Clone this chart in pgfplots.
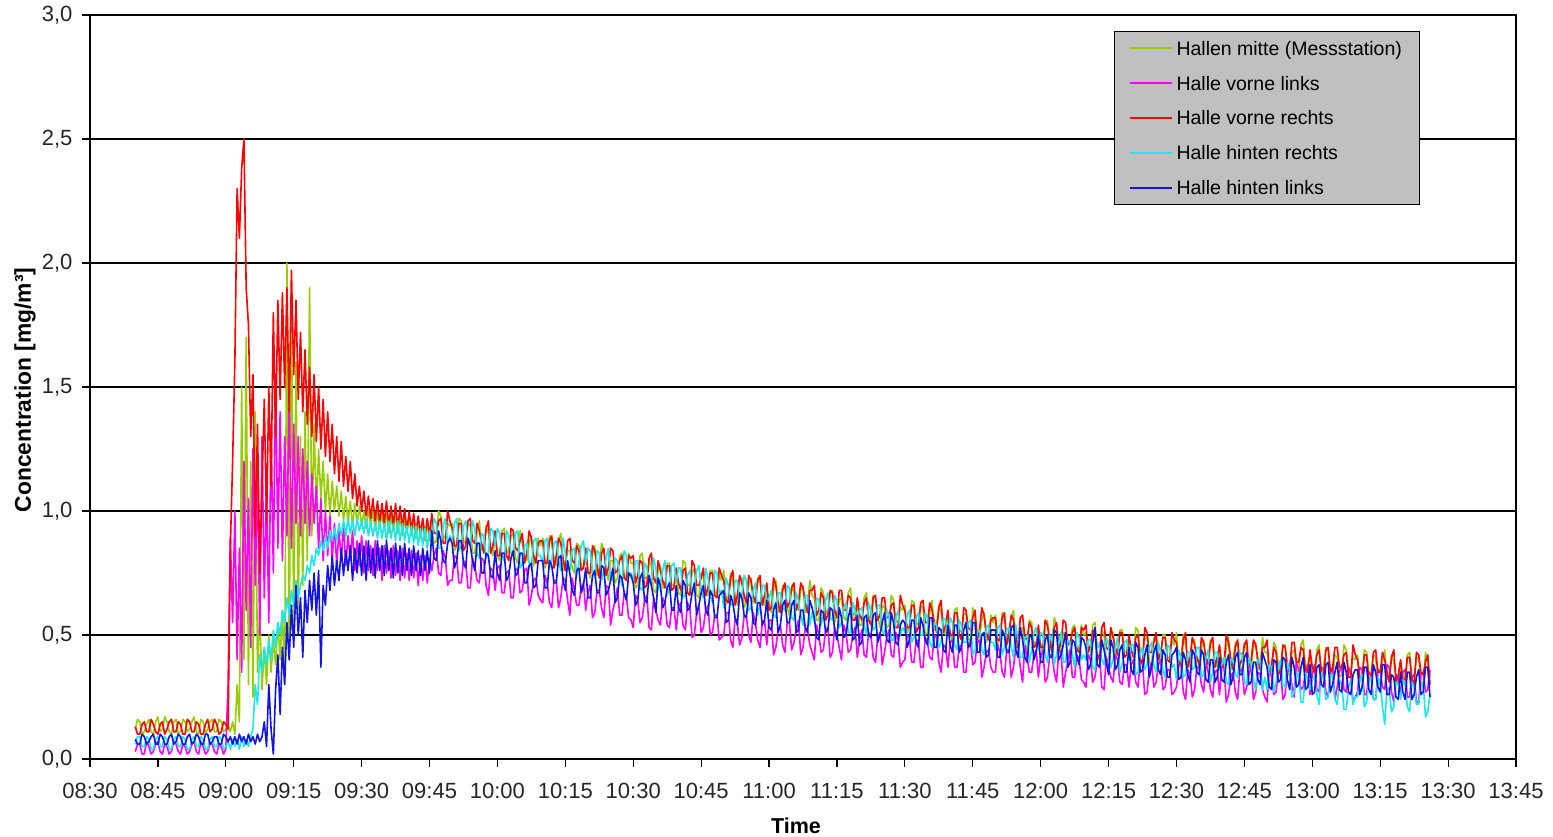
\documentclass[border=0pt]{standalone}
\usepackage{fontspec}
\setmainfont{Liberation Sans}
\usepackage{pgfplots}
\pgfplotsset{compat=1.18}
\usepackage{pgfplotstable}

\definecolor{cMitte}{RGB}{153,204,0}
\definecolor{cVL}{RGB}{255,0,255}
\definecolor{cVR}{RGB}{255,0,0}
\definecolor{cHR}{RGB}{30,230,235}
\definecolor{cHL}{RGB}{20,20,225}
\definecolor{legfill}{RGB}{192,192,192}

% t = minutes after 08:30; g = Hallen mitte, m = vorne links, r = vorne rechts, c = hinten rechts, b = hinten links
\pgfplotstableread{
t g m r c b
10 0.12 0.03 0.13 0.06 0.08
10.5 0.16 0.06 0.10 0.09 0.06
11 0.15 0.06 0.10 0.09 0.06
11.5 0.10 0.02 0.14 0.05 0.10
12 0.11 0.02 0.15 0.05 0.09
12.5 0.14 0.07 0.11 0.09 0.06
13 0.16 0.05 0.11 0.08 0.07
13.5 0.11 0.02 0.16 0.04 0.09
14 0.10 0.03 0.14 0.04 0.10
14.5 0.15 0.06 0.11 0.08 0.06
15 0.17 0.07 0.10 0.09 0.06
15.5 0.11 0.03 0.14 0.05 0.10
16 0.12 0.02 0.15 0.05 0.09
16.5 0.17 0.06 0.10 0.09 0.06
17 0.15 0.05 0.12 0.08 0.06
17.5 0.11 0.02 0.15 0.04 0.09
18 0.10 0.03 0.16 0.04 0.10
18.5 0.15 0.07 0.11 0.08 0.06
19 0.16 0.06 0.11 0.09 0.07
19.5 0.10 0.03 0.15 0.05 0.10
20 0.11 0.02 0.14 0.05 0.09
20.5 0.16 0.06 0.10 0.09 0.06
21 0.15 0.05 0.10 0.08 0.06
21.5 0.11 0.02 0.16 0.04 0.09
22 0.12 0.03 0.15 0.04 0.10
22.5 0.15 0.06 0.11 0.08 0.06
23 0.17 0.07 0.11 0.09 0.07
23.5 0.11 0.03 0.15 0.05 0.10
24 0.10 0.02 0.14 0.05 0.09
24.5 0.16 0.07 0.10 0.09 0.06
25 0.15 0.05 0.10 0.08 0.06
25.5 0.10 0.02 0.14 0.04 0.10
26 0.12 0.03 0.16 0.04 0.10
26.5 0.15 0.06 0.11 0.08 0.06
27 0.16 0.06 0.12 0.09 0.07
27.5 0.11 0.03 0.16 0.05 0.09
28 0.11 0.02 0.14 0.05 0.09
28.5 0.16 0.06 0.10 0.09 0.06
29 0.15 0.05 0.11 0.08 0.06
29.5 0.11 0.02 0.15 0.04 0.10
30 0.12 0.04 0.14 0.05 0.09
30.5 0.14 0.30 0.12 0.07 0.07
31.0 0.11 0.90 0.85 0.04 0.09
31.5 0.15 0.55 1.20 0.08 0.06
32.0 0.10 1.00 1.60 0.05 0.09
32.5 0.30 0.40 2.30 0.08 0.06
33.0 0.15 0.85 2.10 0.04 0.10
33.5 1.50 0.35 2.38 0.09 0.07
34.0 0.40 1.20 2.50 0.05 0.09
34.5 1.70 0.60 1.90 0.08 0.06
35.0 0.30 1.05 1.75 0.05 0.10
35.5 1.20 0.45 1.30 0.09 0.07
36.0 0.25 1.25 1.55 0.12 0.09
36.5 1.40 0.70 0.90 0.30 0.06
37.0 0.35 1.15 1.35 0.22 0.10
37.5 0.60 0.50 0.75 0.42 0.07
38.0 0.28 1.30 1.10 0.35 0.09
38.5 0.45 0.65 1.45 0.45 0.15
39.0 0.30 1.10 0.95 0.38 0.05
39.5 0.50 0.55 1.50 0.48 0.30
40.0 0.35 1.35 1.10 0.40 0.12
40.5 0.48 0.75 1.80 0.52 0.02
41.0 0.38 1.55 1.30 0.45 0.28
41.5 0.55 0.85 1.85 0.55 0.42
42.0 0.40 1.40 1.45 0.50 0.18
42.5 0.60 0.80 1.88 0.60 0.45
43.0 0.30 1.30 1.50 0.55 0.30
43.5 2.00 0.90 1.90 0.65 0.55
44.0 0.40 1.45 1.40 0.58 0.40
44.5 1.85 0.85 1.97 0.68 0.62
45.0 0.50 1.35 1.55 0.62 0.45
45.5 1.60 0.95 1.85 0.72 0.70
46.0 0.60 1.30 1.45 0.65 0.50
46.5 1.30 0.90 1.72 0.70 0.65
47.0 0.70 1.25 1.40 0.74 0.41
47.5 1.40 0.95 1.65 0.72 0.68
48.0 0.80 1.20 1.35 0.78 0.55
48.5 1.90 0.90 1.58 0.75 0.72
49.0 0.90 1.15 1.30 0.82 0.60
49.5 1.35 0.95 1.55 0.78 0.75
50.0 1.00 1.10 1.28 0.85 0.58
50.5 1.25 0.85 1.50 0.82 0.76
51.0 1.05 1.05 1.25 0.88 0.37
51.5 1.20 0.80 1.45 0.84 0.70
52.0 1.00 1.00 1.22 0.90 0.62
52.5 1.15 0.82 1.40 0.85 0.78
53.0 0.98 0.98 1.20 0.92 0.68
53.5 1.12 0.80 1.35 0.88 0.82
54.0 1.00 0.95 1.15 0.93 0.70
54.5 1.10 0.78 1.30 0.88 0.80
55.0 0.98 0.92 1.12 0.95 0.72
55.5 1.08 0.80 1.28 0.90 0.85
56.0 0.96 0.95 1.10 0.96 0.74
56.5 1.06 0.78 1.22 0.90 0.84
57.0 0.95 0.90 1.08 0.97 0.76
57.5 1.04 0.80 1.20 0.91 0.86
58.0 0.94 0.92 1.05 0.96 0.72
58.5 1.03 0.76 1.15 0.90 0.85
59.0 0.95 0.88 1.02 0.97 0.75
59.5 1.02 0.78 1.10 0.92 0.87
60.0 0.94 0.90 1.00 0.96 0.74
60.5 1.00 0.75 1.08 0.91 0.86
61.0 0.93 0.88 0.98 0.97 0.72
61.5 1.01 0.76 1.06 0.90 0.88
62.0 0.94 0.86 0.97 0.96 0.75
62.5 1.00 0.74 1.05 0.90 0.85
63.0 0.92 0.88 0.96 0.95 0.73
63.5 1.00 0.76 1.04 0.89 0.88
64.0 0.93 0.85 0.95 0.96 0.76
64.5 0.99 0.72 1.03 0.89 0.86
65.0 0.92 0.86 0.95 0.95 0.74
65.5 1.00 0.75 1.04 0.88 0.88
66.0 0.91 0.84 0.94 0.96 0.76
66.5 0.98 0.73 1.02 0.89 0.85
67.0 0.92 0.86 0.94 0.95 0.73
67.5 0.99 0.74 1.03 0.88 0.87
68.0 0.91 0.84 0.93 0.96 0.75
68.5 0.98 0.72 1.02 0.88 0.86
69.0 0.90 0.85 0.93 0.95 0.74
69.5 0.97 0.73 1.01 0.88 0.87
70.0 0.91 0.83 0.92 0.94 0.76
70.5 0.97 0.72 1.00 0.87 0.85
71.0 0.90 0.84 0.92 0.94 0.74
71.5 0.96 0.73 0.99 0.87 0.86
72.0 0.89 0.83 0.91 0.94 0.76
72.5 0.96 0.70 0.98 0.86 0.84
73.0 0.89 0.82 0.91 0.93 0.74
73.5 0.95 0.72 0.97 0.86 0.85
74.0 0.88 0.82 0.90 0.93 0.76
74.5 0.95 0.71 0.97 0.85 0.84
75.0 0.88 0.81 0.90 0.92 0.75
75.5 0.95 0.76 0.99 0.87 0.92
76 0.87 0.82 0.91 0.97 0.81
76.5 0.88 0.85 0.91 0.95 0.80
77 1.00 0.75 0.96 0.85 0.92
77.5 0.98 0.74 0.97 0.85 0.88
78 0.90 0.84 0.87 0.94 0.80
78.5 0.89 0.81 0.87 0.97 0.79
79 0.95 0.70 1.00 0.87 0.87
79.5 0.94 0.72 0.96 0.90 0.89
80 0.95 0.72 0.93 0.88 0.87
80.5 0.84 0.82 0.86 0.95 0.77
81 0.86 0.81 0.86 0.97 0.80
81.5 0.97 0.71 0.95 0.84 0.88
82 0.96 0.71 0.95 0.86 0.88
82.5 0.88 0.80 0.84 0.94 0.79
83 0.87 0.79 0.86 0.96 0.77
83.5 0.95 0.69 0.96 0.87 0.89
84 0.94 0.69 0.97 0.87 0.86
84.5 0.83 0.81 0.88 0.96 0.80
85 0.83 0.78 0.87 0.93 0.76
85.5 0.91 0.72 0.95 0.83 0.87
86 0.96 0.71 0.92 0.81 0.87
86.5 0.84 0.81 0.87 0.91 0.75
87 0.86 0.80 0.83 0.90 0.75
87.5 0.94 0.70 0.93 0.81 0.83
88 0.91 0.66 0.96 0.83 0.82
88.5 0.85 0.77 0.83 0.93 0.74
89 0.82 0.76 0.86 0.92 0.73
89.5 0.90 0.68 0.92 0.86 0.84
90 0.82 0.77 0.82 0.93 0.75
90.5 0.80 0.78 0.82 0.91 0.72
91 0.92 0.67 0.91 0.82 0.83
91.5 0.93 0.67 0.91 0.80 0.83
92 0.83 0.75 0.82 0.92 0.72
92.5 0.84 0.76 0.80 0.90 0.74
93 0.90 0.65 0.93 0.83 0.81
93.5 0.91 0.65 0.92 0.83 0.84
94 0.81 0.76 0.85 0.91 0.74
94.5 0.79 0.77 0.84 0.92 0.75
95 0.92 0.67 0.88 0.77 0.83
95.5 0.87 0.68 0.91 0.79 0.83
96 0.82 0.76 0.79 0.86 0.71
96.5 0.80 0.77 0.83 0.87 0.71
97 0.87 0.62 0.92 0.79 0.78
97.5 0.90 0.66 0.89 0.77 0.79
98 0.78 0.72 0.82 0.88 0.69
98.5 0.81 0.73 0.79 0.89 0.70
99 0.89 0.66 0.87 0.82 0.80
99.5 0.86 0.64 0.88 0.82 0.80
100 0.89 0.63 0.88 0.79 0.80
100.5 0.77 0.74 0.79 0.88 0.69
101 0.80 0.71 0.79 0.89 0.69
101.5 0.90 0.63 0.88 0.77 0.80
102 0.87 0.61 0.90 0.80 0.78
102.5 0.81 0.72 0.77 0.87 0.71
103 0.78 0.72 0.82 0.88 0.71
103.5 0.88 0.61 0.89 0.80 0.81
104 0.91 0.65 0.87 0.76 0.82
104.5 0.76 0.73 0.81 0.89 0.72
105 0.79 0.72 0.76 0.83 0.68
105.5 0.84 0.64 0.88 0.76 0.80
106 0.84 0.58 0.89 0.76 0.75
106.5 0.77 0.73 0.80 0.84 0.68
107 0.75 0.68 0.79 0.85 0.66
107.5 0.87 0.62 0.86 0.74 0.76
108 0.86 0.62 0.84 0.79 0.77
108.5 0.78 0.69 0.76 0.86 0.67
109 0.77 0.71 0.77 0.88 0.70
109.5 0.83 0.60 0.85 0.79 0.77
110 0.76 0.67 0.75 0.85 0.65
110.5 0.73 0.70 0.75 0.84 0.65
111 0.83 0.57 0.86 0.76 0.74
111.5 0.86 0.59 0.84 0.73 0.76
112 0.74 0.68 0.78 0.84 0.67
112.5 0.77 0.68 0.73 0.83 0.67
113 0.87 0.61 0.83 0.72 0.78
113.5 0.84 0.57 0.85 0.76 0.77
114 0.77 0.70 0.74 0.81 0.66
114.5 0.72 0.69 0.77 0.85 0.68
115 0.80 0.54 0.85 0.72 0.72
115.5 0.80 0.60 0.84 0.72 0.77
116 0.71 0.64 0.75 0.81 0.63
116.5 0.73 0.69 0.76 0.80 0.65
117 0.82 0.58 0.80 0.75 0.74
117.5 0.83 0.58 0.82 0.70 0.73
118 0.73 0.67 0.73 0.84 0.67
118.5 0.74 0.65 0.72 0.82 0.64
119 0.83 0.57 0.82 0.73 0.75
119.5 0.79 0.56 0.81 0.75 0.74
120 0.79 0.53 0.82 0.72 0.71
120.5 0.69 0.66 0.71 0.80 0.62
121 0.70 0.64 0.74 0.80 0.64
121.5 0.82 0.55 0.80 0.69 0.73
122 0.83 0.57 0.79 0.68 0.75
122.5 0.73 0.64 0.69 0.79 0.64
123 0.73 0.66 0.70 0.77 0.63
123.5 0.80 0.53 0.81 0.72 0.74
124 0.78 0.52 0.83 0.70 0.70
124.5 0.68 0.65 0.73 0.81 0.65
125 0.67 0.60 0.71 0.77 0.59
125.5 0.76 0.56 0.80 0.68 0.73
126 0.78 0.54 0.76 0.71 0.70
126.5 0.69 0.65 0.72 0.76 0.61
127 0.69 0.63 0.69 0.80 0.63
127.5 0.79 0.54 0.78 0.66 0.69
128 0.79 0.53 0.78 0.69 0.71
128.5 0.70 0.61 0.68 0.78 0.60
129 0.70 0.61 0.69 0.79 0.60
129.5 0.75 0.52 0.77 0.71 0.70
130 0.67 0.61 0.71 0.77 0.61
130.5 0.66 0.63 0.68 0.77 0.59
131 0.80 0.54 0.76 0.65 0.72
131.5 0.79 0.52 0.77 0.66 0.70
132 0.70 0.63 0.67 0.74 0.60
132.5 0.70 0.61 0.66 0.76 0.61
133 0.75 0.49 0.80 0.67 0.67
133.5 0.77 0.50 0.78 0.69 0.71
134 0.66 0.59 0.70 0.76 0.58
134.5 0.65 0.62 0.70 0.78 0.62
135 0.75 0.51 0.73 0.68 0.67
135.5 0.73 0.53 0.77 0.65 0.70
136 0.66 0.60 0.66 0.77 0.60
136.5 0.66 0.62 0.69 0.73 0.58
137 0.76 0.50 0.75 0.66 0.68
137.5 0.76 0.51 0.75 0.63 0.66
138 0.67 0.58 0.66 0.76 0.57
138.5 0.67 0.58 0.65 0.75 0.57
139 0.74 0.48 0.77 0.67 0.66
139.5 0.72 0.49 0.74 0.68 0.67
140 0.76 0.50 0.72 0.61 0.68
140.5 0.62 0.59 0.64 0.73 0.55
141 0.66 0.59 0.63 0.70 0.56
141.5 0.75 0.48 0.73 0.62 0.66
142 0.71 0.45 0.76 0.63 0.63
142.5 0.66 0.57 0.62 0.72 0.57
143 0.62 0.55 0.66 0.72 0.54
143.5 0.73 0.46 0.74 0.65 0.67
144 0.73 0.49 0.71 0.66 0.65
144.5 0.61 0.58 0.66 0.74 0.58
145 0.63 0.57 0.63 0.72 0.57
145.5 0.70 0.50 0.74 0.60 0.67
146 0.73 0.47 0.72 0.61 0.65
146.5 0.63 0.59 0.66 0.68 0.55
147 0.64 0.55 0.63 0.71 0.54
147.5 0.73 0.48 0.72 0.58 0.63
148 0.71 0.45 0.74 0.62 0.63
148.5 0.64 0.55 0.62 0.70 0.54
149 0.62 0.56 0.66 0.70 0.56
149.5 0.69 0.46 0.71 0.63 0.64
150 0.63 0.56 0.60 0.65 0.53
150.5 0.59 0.56 0.61 0.68 0.52
151 0.68 0.42 0.73 0.58 0.60
151.5 0.72 0.45 0.70 0.57 0.63
152 0.59 0.52 0.63 0.67 0.51
152.5 0.63 0.54 0.59 0.67 0.54
153 0.70 0.46 0.68 0.61 0.62
153.5 0.70 0.43 0.71 0.60 0.64
154 0.61 0.55 0.61 0.70 0.55
154.5 0.58 0.55 0.63 0.69 0.55
155 0.70 0.44 0.69 0.57 0.62
155.5 0.67 0.47 0.71 0.56 0.64
156 0.61 0.52 0.60 0.67 0.51
156.5 0.60 0.56 0.63 0.64 0.52
157 0.68 0.42 0.71 0.58 0.60
157.5 0.70 0.45 0.69 0.54 0.60
158 0.59 0.53 0.63 0.66 0.53
158.5 0.61 0.52 0.59 0.66 0.51
159 0.72 0.46 0.68 0.54 0.64
159.5 0.66 0.43 0.68 0.59 0.61
160 0.65 0.40 0.70 0.55 0.57
160.5 0.56 0.54 0.58 0.65 0.49
161 0.56 0.50 0.60 0.64 0.48
161.5 0.69 0.43 0.67 0.54 0.60
162 0.67 0.44 0.65 0.58 0.59
162.5 0.60 0.52 0.56 0.64 0.51
163 0.58 0.53 0.58 0.67 0.52
163.5 0.67 0.41 0.68 0.57 0.61
164 0.68 0.43 0.67 0.56 0.60
164.5 0.55 0.53 0.60 0.66 0.52
165 0.58 0.50 0.57 0.64 0.48
165.5 0.64 0.45 0.68 0.53 0.61
166 0.65 0.40 0.68 0.55 0.57
166.5 0.57 0.54 0.60 0.61 0.49
167 0.56 0.51 0.60 0.63 0.50
167.5 0.67 0.43 0.66 0.51 0.57
168 0.69 0.44 0.65 0.51 0.61
168.5 0.58 0.50 0.56 0.63 0.48
169 0.59 0.53 0.56 0.60 0.49
169.5 0.63 0.41 0.65 0.56 0.58
170 0.54 0.48 0.58 0.60 0.46
170.5 0.54 0.52 0.56 0.61 0.47
171 0.65 0.42 0.63 0.54 0.57
171.5 0.67 0.41 0.65 0.50 0.58
172 0.56 0.51 0.56 0.63 0.50
172.5 0.58 0.50 0.54 0.60 0.49
173 0.66 0.41 0.65 0.52 0.58
173.5 0.65 0.39 0.66 0.53 0.59
174 0.57 0.49 0.56 0.62 0.47
174.5 0.53 0.51 0.58 0.62 0.50
175 0.62 0.38 0.65 0.52 0.55
175.5 0.61 0.43 0.65 0.50 0.59
176 0.53 0.49 0.57 0.60 0.48
176.5 0.54 0.52 0.57 0.58 0.47
177 0.66 0.42 0.62 0.48 0.59
177.5 0.64 0.41 0.63 0.48 0.55
178 0.56 0.51 0.53 0.57 0.47
178.5 0.55 0.48 0.53 0.60 0.46
179 0.61 0.37 0.66 0.50 0.54
179.5 0.60 0.39 0.62 0.53 0.56
180 0.62 0.40 0.60 0.51 0.55
180.5 0.51 0.50 0.53 0.58 0.45
181 0.53 0.49 0.53 0.60 0.48
181.5 0.64 0.39 0.62 0.47 0.56
182 0.63 0.39 0.62 0.49 0.56
182.5 0.55 0.48 0.51 0.57 0.47
183 0.54 0.47 0.53 0.59 0.45
183.5 0.62 0.37 0.63 0.50 0.57
184 0.61 0.37 0.64 0.50 0.54
184.5 0.50 0.49 0.55 0.59 0.48
185 0.51 0.47 0.55 0.57 0.46
185.5 0.59 0.41 0.63 0.47 0.57
186 0.64 0.40 0.60 0.45 0.57
186.5 0.52 0.50 0.55 0.55 0.45
187 0.54 0.49 0.51 0.54 0.45
187.5 0.62 0.39 0.61 0.45 0.53
188 0.59 0.35 0.64 0.47 0.52
188.5 0.53 0.46 0.51 0.57 0.44
189 0.50 0.45 0.54 0.56 0.43
189.5 0.58 0.37 0.60 0.50 0.54
190 0.50 0.47 0.50 0.57 0.46
190.5 0.48 0.48 0.50 0.55 0.43
191 0.60 0.37 0.59 0.46 0.54
191.5 0.61 0.37 0.59 0.44 0.54
192 0.51 0.45 0.50 0.56 0.43
192.5 0.52 0.46 0.48 0.54 0.45
193 0.58 0.35 0.61 0.47 0.52
193.5 0.59 0.35 0.60 0.47 0.55
194 0.49 0.46 0.53 0.55 0.45
194.5 0.47 0.47 0.52 0.56 0.46
195 0.61 0.38 0.57 0.42 0.55
195.5 0.56 0.39 0.60 0.44 0.55
196 0.51 0.47 0.48 0.51 0.43
196.5 0.49 0.48 0.52 0.52 0.43
197 0.56 0.33 0.61 0.44 0.50
197.5 0.59 0.37 0.58 0.42 0.51
198 0.47 0.43 0.51 0.53 0.41
198.5 0.50 0.44 0.48 0.54 0.42
199 0.58 0.37 0.56 0.47 0.52
199.5 0.55 0.35 0.57 0.47 0.52
200 0.58 0.35 0.57 0.44 0.52
200.5 0.46 0.46 0.48 0.53 0.41
201 0.49 0.43 0.48 0.54 0.41
201.5 0.59 0.35 0.57 0.42 0.52
202 0.56 0.33 0.59 0.45 0.50
202.5 0.50 0.44 0.46 0.52 0.43
203 0.47 0.44 0.51 0.53 0.43
203.5 0.57 0.33 0.58 0.45 0.53
204 0.60 0.37 0.56 0.41 0.54
204.5 0.45 0.45 0.50 0.54 0.44
205 0.48 0.45 0.45 0.48 0.41
205.5 0.53 0.37 0.57 0.41 0.53
206 0.53 0.31 0.58 0.41 0.48
206.5 0.46 0.46 0.49 0.49 0.41
207 0.44 0.41 0.48 0.50 0.39
207.5 0.56 0.35 0.55 0.39 0.49
208 0.55 0.35 0.53 0.44 0.50
208.5 0.47 0.42 0.45 0.51 0.40
209 0.46 0.44 0.46 0.53 0.43
209.5 0.52 0.33 0.54 0.44 0.50
210 0.46 0.41 0.45 0.51 0.39
210.5 0.43 0.44 0.45 0.50 0.39
211 0.53 0.31 0.56 0.42 0.48
211.5 0.56 0.33 0.54 0.39 0.50
212 0.44 0.42 0.48 0.50 0.41
212.5 0.47 0.42 0.43 0.49 0.41
213 0.57 0.35 0.53 0.38 0.52
213.5 0.54 0.31 0.55 0.42 0.51
214 0.47 0.44 0.44 0.47 0.40
214.5 0.42 0.43 0.47 0.51 0.42
215 0.51 0.29 0.56 0.39 0.46
215.5 0.51 0.35 0.55 0.39 0.51
216 0.42 0.39 0.46 0.48 0.37
216.5 0.44 0.44 0.47 0.47 0.39
217 0.53 0.33 0.51 0.42 0.48
217.5 0.54 0.33 0.53 0.37 0.47
218 0.44 0.42 0.44 0.51 0.41
218.5 0.45 0.40 0.43 0.49 0.38
219 0.54 0.32 0.53 0.40 0.49
219.5 0.50 0.31 0.52 0.42 0.48
220 0.51 0.29 0.54 0.40 0.45
220.5 0.41 0.42 0.43 0.48 0.36
221 0.42 0.40 0.46 0.48 0.38
221.5 0.54 0.31 0.52 0.37 0.47
222 0.55 0.33 0.51 0.36 0.53
222.5 0.45 0.40 0.41 0.47 0.38
223 0.45 0.42 0.42 0.45 0.37
223.5 0.52 0.29 0.53 0.40 0.48
224 0.50 0.28 0.55 0.38 0.44
224.5 0.40 0.41 0.45 0.49 0.39
225 0.40 0.37 0.44 0.46 0.34
225.5 0.49 0.33 0.53 0.37 0.48
226 0.51 0.31 0.49 0.40 0.45
226.5 0.42 0.42 0.45 0.45 0.36
227 0.42 0.40 0.42 0.49 0.38
227.5 0.52 0.31 0.51 0.35 0.44
228 0.52 0.30 0.51 0.38 0.46
228.5 0.43 0.38 0.41 0.47 0.35
229 0.43 0.38 0.42 0.48 0.35
229.5 0.48 0.29 0.50 0.40 0.45
230 0.40 0.38 0.44 0.46 0.36
230.5 0.39 0.40 0.41 0.46 0.34
231 0.53 0.31 0.49 0.34 0.47
231.5 0.52 0.29 0.50 0.35 0.45
232 0.43 0.40 0.40 0.43 0.35
232.5 0.43 0.38 0.39 0.45 0.36
233 0.48 0.26 0.53 0.36 0.42
233.5 0.50 0.27 0.51 0.38 0.46
234 0.39 0.36 0.43 0.45 0.33
234.5 0.38 0.39 0.43 0.47 0.37
235 0.49 0.29 0.47 0.38 0.43
235.5 0.47 0.31 0.51 0.35 0.46
236 0.40 0.38 0.40 0.47 0.36
236.5 0.40 0.40 0.43 0.43 0.34
237 0.50 0.28 0.49 0.36 0.44
237.5 0.50 0.29 0.49 0.33 0.42
238 0.41 0.36 0.40 0.46 0.33
238.5 0.41 0.36 0.39 0.45 0.33
239 0.48 0.26 0.51 0.37 0.42
239.5 0.46 0.27 0.48 0.38 0.43
240 0.51 0.29 0.47 0.32 0.45
240.5 0.37 0.38 0.39 0.44 0.32
241 0.41 0.38 0.38 0.41 0.33
241.5 0.50 0.27 0.48 0.33 0.43
242 0.46 0.24 0.51 0.34 0.40
242.5 0.41 0.36 0.37 0.43 0.34
243 0.37 0.34 0.41 0.43 0.31
243.5 0.48 0.25 0.49 0.36 0.44
244 0.48 0.28 0.46 0.37 0.42
244.5 0.36 0.37 0.41 0.45 0.35
245 0.38 0.37 0.38 0.45 0.34
245.5 0.45 0.30 0.49 0.33 0.44
246 0.48 0.27 0.47 0.34 0.42
246.5 0.38 0.39 0.41 0.41 0.32
247 0.39 0.35 0.38 0.44 0.31
247.5 0.48 0.28 0.47 0.31 0.40
248 0.46 0.25 0.49 0.35 0.40
248.5 0.39 0.35 0.37 0.43 0.31
249 0.37 0.36 0.41 0.43 0.33
249.5 0.44 0.26 0.46 0.36 0.41
250 0.40 0.37 0.37 0.38 0.32
250.5 0.36 0.37 0.38 0.41 0.31
251 0.45 0.23 0.50 0.31 0.39
251.5 0.49 0.26 0.47 0.30 0.42
252 0.36 0.33 0.40 0.40 0.30
252.5 0.40 0.35 0.36 0.40 0.33
253 0.47 0.27 0.45 0.34 0.41
253.5 0.47 0.24 0.48 0.33 0.43
254 0.38 0.36 0.38 0.43 0.34
254.5 0.35 0.36 0.40 0.42 0.34
255 0.47 0.26 0.46 0.31 0.41
255.5 0.44 0.29 0.48 0.30 0.43
256 0.38 0.34 0.37 0.41 0.30
256.5 0.37 0.38 0.40 0.38 0.31
257 0.45 0.24 0.48 0.32 0.39
257.5 0.47 0.27 0.46 0.28 0.39
258 0.36 0.35 0.40 0.40 0.32
258.5 0.38 0.34 0.36 0.40 0.30
259 0.49 0.28 0.45 0.28 0.43
259.5 0.43 0.25 0.45 0.33 0.40
260 0.43 0.23 0.48 0.28 0.37
260.5 0.34 0.37 0.36 0.38 0.29
261 0.34 0.33 0.38 0.37 0.28
261.5 0.47 0.26 0.45 0.27 0.40
262 0.45 0.27 0.43 0.31 0.39
262.5 0.38 0.35 0.34 0.37 0.31
263 0.36 0.36 0.36 0.40 0.32
263.5 0.45 0.24 0.46 0.30 0.41
264 0.46 0.26 0.45 0.29 0.40
264.5 0.33 0.36 0.38 0.39 0.32
265 0.37 0.35 0.36 0.36 0.28
265.5 0.43 0.30 0.47 0.25 0.41
266 0.44 0.25 0.47 0.27 0.37
266.5 0.36 0.39 0.39 0.33 0.29
267 0.35 0.36 0.39 0.35 0.30
267.5 0.46 0.28 0.45 0.23 0.37
268 0.48 0.29 0.44 0.23 0.41
268.5 0.37 0.35 0.35 0.35 0.28
269 0.38 0.38 0.35 0.32 0.29
269.5 0.42 0.26 0.44 0.28 0.38
270 0.33 0.34 0.37 0.32 0.26
270.5 0.33 0.38 0.35 0.33 0.27
271 0.44 0.28 0.42 0.26 0.37
271.5 0.46 0.27 0.44 0.22 0.38
272 0.35 0.37 0.35 0.35 0.30
272.5 0.37 0.36 0.33 0.32 0.29
273 0.45 0.27 0.44 0.24 0.38
273.5 0.44 0.25 0.45 0.25 0.39
274 0.36 0.35 0.35 0.34 0.27
274.5 0.32 0.37 0.37 0.34 0.30
275 0.42 0.24 0.45 0.24 0.35
275.5 0.41 0.29 0.45 0.22 0.39
276 0.33 0.35 0.37 0.32 0.28
276.5 0.34 0.38 0.37 0.30 0.27
277 0.46 0.28 0.42 0.20 0.39
277.5 0.44 0.27 0.43 0.20 0.35
278 0.36 0.37 0.33 0.29 0.27
278.5 0.35 0.34 0.33 0.32 0.26
279 0.41 0.23 0.46 0.22 0.34
279.5 0.40 0.25 0.42 0.25 0.36
280 0.42 0.27 0.40 0.25 0.36
280.5 0.31 0.37 0.33 0.32 0.26
281 0.33 0.36 0.33 0.34 0.29
281.5 0.44 0.26 0.42 0.21 0.37
282 0.43 0.26 0.42 0.23 0.37
282.5 0.35 0.35 0.31 0.31 0.28
283 0.34 0.34 0.33 0.33 0.26
283.5 0.42 0.24 0.43 0.24 0.38
284 0.41 0.24 0.44 0.24 0.35
284.5 0.30 0.36 0.35 0.33 0.29
285 0.31 0.35 0.35 0.31 0.27
285.5 0.39 0.29 0.43 0.21 0.38
286 0.44 0.28 0.40 0.14 0.38
286.5 0.32 0.38 0.35 0.29 0.26
287 0.34 0.37 0.31 0.28 0.26
287.5 0.42 0.27 0.41 0.19 0.34
288 0.39 0.23 0.44 0.21 0.33
288.5 0.33 0.34 0.31 0.31 0.25
289 0.30 0.33 0.34 0.30 0.24
289.5 0.38 0.25 0.40 0.24 0.35
290 0.32 0.35 0.32 0.32 0.27
290.5 0.30 0.36 0.32 0.30 0.24
291 0.42 0.25 0.41 0.21 0.35
291.5 0.43 0.25 0.41 0.19 0.35
292 0.33 0.33 0.32 0.31 0.24
292.5 0.34 0.34 0.30 0.29 0.26
293 0.40 0.23 0.43 0.22 0.33
293.5 0.41 0.23 0.42 0.22 0.36
294 0.31 0.34 0.35 0.30 0.26
294.5 0.29 0.35 0.34 0.31 0.27
295 0.43 0.27 0.39 0.17 0.37
295.5 0.38 0.28 0.42 0.19 0.37
296 0.33 0.36 0.30 0.26 0.25
}\conc

\begin{document}
\begin{tikzpicture}
\useasboundingbox (-90pt,-78pt) rectangle (1463pt,759pt);
\begin{axis}[
  at={(0pt,0pt)}, anchor=south west,
  width=1426pt, height=744pt, scale only axis,
  xmin=0, xmax=315, ymin=0, ymax=3,
  xtick={0,15,...,315},
  xticklabels={08:30,08:45,09:00,09:15,09:30,09:45,10:00,10:15,10:30,10:45,11:00,11:15,11:30,11:45,12:00,12:15,12:30,12:45,13:00,13:15,13:30,13:45},
  ytick={0,0.5,1,1.5,2,2.5,3},
  yticklabel style={/pgf/number format/.cd, use comma, fixed, fixed zerofill, precision=1, /tikz/.cd, xshift=-6pt},
  xticklabel style={yshift=-13pt},
  /pgf/number format/assume math mode=true,
  tick align=outside, tick pos=left, major tick length=8pt,
  every tick/.style={black, line width=1.2pt},
  ymajorgrids, grid style={black, line width=1.2pt},
  axis line style={line width=1.2pt},
  ticklabel style={font=\fontsize{22}{26}\selectfont, text=black!85},
  xlabel={\textbf{Time}}, ylabel={\textbf{Concentration [mg/m³]}},
  xlabel style={font=\fontsize{21.5}{25}\selectfont, at={([yshift=-67pt]axis description cs:0.4951,0)}, anchor=center},
  ylabel style={font=\fontsize{22.8}{26}\selectfont, at={([xshift=-65pt]axis description cs:0,0.496)}, anchor=center},
  no markers,
  every axis plot/.append style={line width=1.6pt, line join=round},
  legend image code/.code={\draw[#1, line width=2pt, solid] (0pt,0pt) -- (42pt,0pt);},
  legend style={at={(axis description cs:0.7181,0.9785)}, anchor=north west,
    fill=legfill, draw=black, line width=1pt,
    font=\fontsize{19.5}{22}\selectfont,
    inner xsep=14pt, inner ysep=8pt, row sep=16.8pt,
    nodes={inner xsep=4pt, inner ysep=0pt, text height=15.8pt, text depth=2.2pt}},
  legend cell align=left,
]
\addplot[cMitte] table[x=t, y=g] {\conc};
\addlegendentry{Hallen mitte (Messstation)}
\addplot[cVL] table[x=t, y=m] {\conc};
\addlegendentry{Halle vorne links}
\addplot[cVR] table[x=t, y=r] {\conc};
\addlegendentry{Halle vorne rechts}
\addplot[cHR] table[x=t, y=c] {\conc};
\addlegendentry{Halle hinten rechts}
\addplot[cHL] table[x=t, y=b] {\conc};
\addlegendentry{Halle hinten links}
\end{axis}
\end{tikzpicture}
\end{document}
